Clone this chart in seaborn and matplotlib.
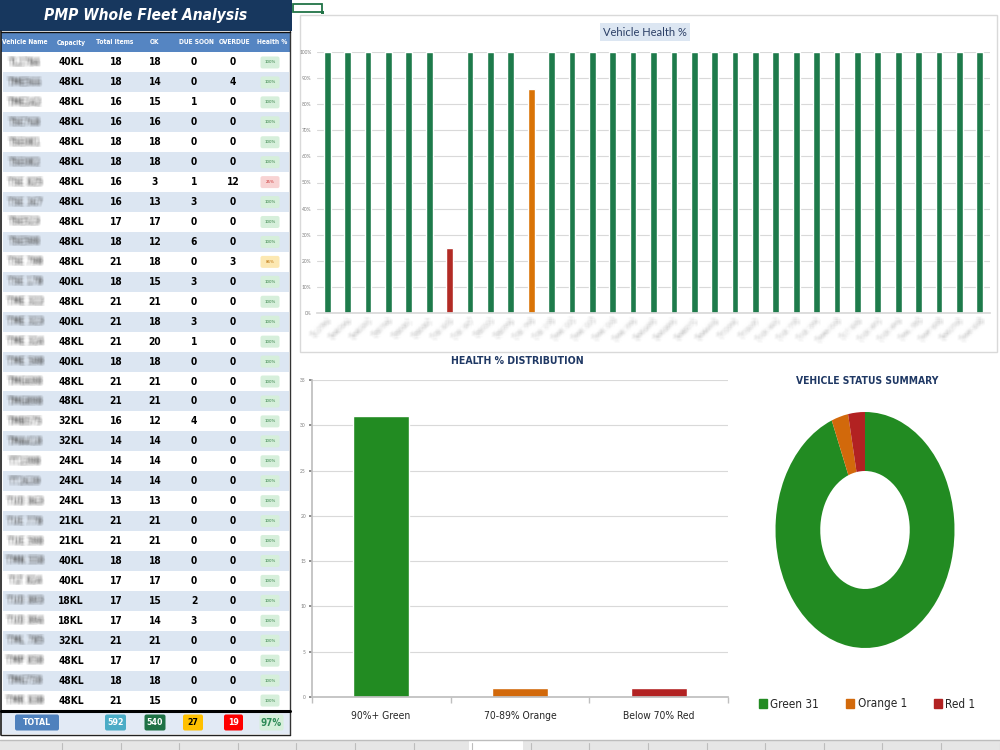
import numpy as np
import pandas as pd
import matplotlib
matplotlib.use('Agg')
import matplotlib.pyplot as plt
import seaborn as sns
from matplotlib.patches import Rectangle, FancyBboxPatch, Patch
from matplotlib.ticker import MultipleLocator, PercentFormatter

# fleet table (names are blurred in the source, so they are blurred here too)
vehicles = ['TL2784', 'TME566', 'TME242', 'TSE768', 'TSE081', 'TSE082', 'TSE 825',
            'TSE 367', 'TSE523', 'TSE598', 'TSE 798', 'TSE 178', 'TME 322', 'TME 323',
            'TME 324', 'TME 598', 'TMG698', 'TMG898', 'TMB575', 'TMA418', 'TT2398',
            'TT2639', 'TUD 863', 'TUE 778', 'TUE 598', 'TMN 558', 'TLT 824', 'TUD 893',
            'TUD 894', 'TML 785', 'TMP 858', 'TMG758', 'TMR 838']
capacity = ['40KL', '48KL', '48KL', '48KL', '48KL', '48KL', '48KL', '48KL', '48KL', '48KL',
            '48KL', '40KL', '48KL', '40KL', '48KL', '40KL', '48KL', '48KL', '32KL', '32KL',
            '24KL', '24KL', '24KL', '21KL', '21KL', '40KL', '40KL', '18KL', '18KL', '32KL',
            '48KL', '48KL', '48KL']
total_items = [18, 18, 16, 16, 18, 18, 16, 16, 17, 18, 21, 18, 21, 21, 21, 18, 21, 21, 16, 14,
               14, 14, 13, 21, 21, 18, 17, 17, 17, 21, 17, 18, 21]
ok_items = [18, 14, 15, 16, 18, 18, 3, 13, 17, 12, 18, 15, 21, 18, 20, 18, 21, 21, 12, 14,
            14, 14, 13, 21, 21, 18, 17, 15, 14, 21, 17, 18, 15]
due_soon = [0, 0, 1, 0, 0, 0, 1, 3, 0, 6, 0, 3, 0, 3, 1, 0, 0, 0, 4, 0,
            0, 0, 0, 0, 0, 0, 0, 2, 3, 0, 0, 0, 0]
overdue = [0, 4, 0, 0, 0, 0, 12, 0, 0, 0, 3, 0, 0, 0, 0, 0, 0, 0, 0, 0,
           0, 0, 0, 0, 0, 0, 0, 0, 0, 0, 0, 0, 0]
health = [100, 100, 100, 100, 100, 100, 25, 100, 100, 100, 86, 100, 100, 100, 100, 100, 100,
          100, 100, 100, 100, 100, 100, 100, 100, 100, 100, 100, 100, 100, 100, 100, 100]
fleet_health = '97%'

dist_labels = ['90%+ Green', '70-89% Orange', 'Below 70% Red']
dist_counts = [31, 1, 1]
status_labels = ['Green', 'Orange', 'Red']
status_counts = [31, 1, 1]

BAR_COLORS = {'Green': '#1E7B4B', 'Orange': '#D97306', 'Red': '#B22B25'}
DIST_COLORS = ['#228B22', '#D2690B', '#B22222']
NAVY = '#1F3864'
COND = dict(family='DejaVu Sans', stretch='condensed')


def band(h):
    if h >= 90:
        return 'Green'
    if h >= 70:
        return 'Orange'
    return 'Red'


def blur(img, dpi, r=2):
    # simple box blur for the anonymised vehicle names
    pad = 2 * r
    img = np.pad(img, ((pad, pad), (pad, pad), (0, 0)))
    for axis in (0, 1):
        acc = np.zeros_like(img)
        for s in range(-r, r + 1):
            acc += np.roll(img, s, axis=axis)
        img = acc / (2 * r + 1)
    return img, -pad, -pad


def px_axes(fig, x0, y0, x1, y1):
    return fig.add_axes([x0 / 1000, 1 - y1 / 750, (x1 - x0) / 1000, (y1 - y0) / 750])


def badge(ax, xc, yc, w, h, fc, text, tc, size, weight='bold', font=COND):
    ax.add_patch(FancyBboxPatch((xc - w / 2, yc - h / 2), w, h,
                                boxstyle='round,pad=0,rounding_size=2', fc=fc, ec='none'))
    ax.text(xc, yc, text, ha='center', va='center', color=tc, fontsize=size,
            weight=weight, **font)


sns.set_theme(style='white')
plt.rcParams['font.family'] = ['Lato', 'DejaVu Sans']

fig = plt.figure(figsize=(10, 7.5), dpi=100, facecolor='white')
bg = fig.add_axes([0, 0, 1, 1])
bg.set_xlim(0, 1000)
bg.set_ylim(750, 0)
bg.axis('off')

# ---------------- table panel ----------------
bg.add_patch(Rectangle((0, 0), 292, 31, color='#17375E', lw=0))
bg.text(146, 15.5, 'PMP Whole Fleet Analysis', ha='center', va='center', color='white',
        fontsize=11.2, weight='bold', style='italic', **COND)
bg.add_patch(Rectangle((1, 32), 289, 20, color='#5585C2', lw=0))
headers = ['Vehicle Name', 'Capacity', 'Total Items', 'OK', 'DUE SOON', 'OVERDUE', 'Health %']
head_x = [25, 71, 115, 155, 196, 235, 272]
for hx, ht in zip(head_x, headers):
    bg.text(hx, 42.5, ht, ha='center', va='center', color='white', fontsize=4.8,
            weight='bold', **COND)

col_x = [25, 71, 116, 155, 194, 233, 270]
y0, rh = 52.5, 19.94
badge_style = {'Green': ('#D6EFDB', '#2E7D40'), 'Orange': ('#FCE8B2', '#B86A00'),
               'Red': ('#F8D3D3', '#C62828')}
for i in range(len(vehicles)):
    top = y0 + i * rh
    yc = top + rh / 2
    bg.add_patch(Rectangle((3, top), 286, rh, color='white' if i % 2 == 0 else '#DCE6F2', lw=0))
    t = bg.text(col_x[0], yc, vehicles[i], ha='center', va='center', color='#505050',
                fontsize=6, weight='bold', **COND)
    t.set_agg_filter(blur)
    vals = [capacity[i], total_items[i], ok_items[i], due_soon[i], overdue[i]]
    for cx, v in zip(col_x[1:6], vals):
        bg.text(cx, yc, str(v), ha='center', va='center', color='black', fontsize=7.3,
                weight='bold', **COND)
    fc, tc = badge_style[band(health[i])]
    badge(bg, col_x[6], yc, 19, 12, fc, f'{health[i]}%', tc, 3.2, weight='normal')

# table borders and total row
bg.plot([1, 1], [31, 735], color='#1A1A1A', lw=1.2)
bg.plot([290, 290], [31, 735], color='#333333', lw=1.0)
bg.plot([1, 290], [31.5, 31.5], color='#111111', lw=1.0)
bg.plot([1, 290], [711, 711], color='black', lw=2.2)
bg.add_patch(Rectangle((2, 712), 288, 22, color='#E2EAF5', lw=0))
bg.plot([1, 290], [734.5, 734.5], color='#222222', lw=1.0)
tot_y = 722.5
badge(bg, 37, tot_y, 44, 16, '#4F81BD', 'TOTAL', 'white', 6.3)
badge(bg, 115.5, tot_y, 21, 16, '#4BACC6', str(sum(total_items)), 'white', 6.3)
badge(bg, 155, tot_y, 21, 16, '#1E7145', str(sum(ok_items)), 'white', 6.3)
badge(bg, 193, tot_y, 20, 16, '#FFC000', str(sum(due_soon)), 'black', 6.3)
badge(bg, 233.5, tot_y, 19, 16, '#FF0000', str(sum(overdue)), 'white', 6.3)
badge(bg, 271.5, tot_y, 24, 16, '#D6EFDB', fleet_health, '#2E8B57', 7)

# excel cell cursor and sheet tab strip
bg.add_patch(Rectangle((293, 4), 29, 8, fill=False, ec='#217346', lw=1.3))
bg.add_patch(Rectangle((320.5, 10.5), 3, 3, color='#217346', lw=0))
bg.add_patch(Rectangle((0, 740), 1000, 10, color='#E6E6E6', lw=0))
bg.plot([0, 1000], [740, 740], color='#BDBDBD', lw=1)
bg.add_patch(Rectangle((469, 741), 54, 9, color='white', lw=0))
for dx in np.arange(62, 1000, 58.6):
    bg.plot([dx, dx], [743, 750], color='#BDBDBD', lw=0.8)

# ---------------- vehicle health bar chart ----------------
bg.add_patch(Rectangle((300, 15), 697, 337, fill=False, ec='#D9D9D9', lw=1))
bg.text(645, 32, 'Vehicle Health %', ha='center', va='center', color='#2B3F66', fontsize=8,
        bbox=dict(boxstyle='square,pad=0.3', fc='#DCE6F2', ec='none'))

df = pd.DataFrame({'vehicle': vehicles, 'health': health,
                   'band': [band(h) for h in health]})
ax1 = px_axes(fig, 317, 52, 990, 313)
sns.barplot(data=df, x='vehicle', y='health', hue='band', order=vehicles,
            hue_order=status_labels, palette=BAR_COLORS, dodge=False, width=0.33,
            saturation=1, errorbar=None, legend=False, ax=ax1)
ax1.set_xlim(-0.5, len(vehicles) - 0.5)
ax1.set_ylim(0, 100)
ax1.yaxis.set_major_locator(MultipleLocator(10))
ax1.yaxis.set_major_formatter(PercentFormatter(xmax=100, decimals=0))
ax1.yaxis.grid(True, color='#D9D9D9', lw=0.8)
ax1.set_axisbelow(True)
ax1.set_facecolor('none')
for s in ['top', 'right', 'left']:
    ax1.spines[s].set_visible(False)
ax1.spines['bottom'].set_color('#D9D9D9')
ax1.set_xlabel('')
ax1.set_ylabel('')
ax1.tick_params(axis='y', labelsize=3.5, colors='#7F7F7F', length=0, pad=4)
ax1.tick_params(axis='x', labelsize=5, colors='#9A9A9A', length=0, pad=3)
for lab in ax1.get_xticklabels():
    lab.set_rotation(45)
    lab.set_ha('right')
    lab.set_rotation_mode('anchor')
    lab.set_agg_filter(blur)

# ---------------- health distribution ----------------
bg.text(517, 361, 'HEALTH % DISTRIBUTION', ha='center', va='center', color=NAVY,
        fontsize=7.6, weight='bold', **COND)
ax2 = px_axes(fig, 311.5, 380, 728.5, 697)
sns.barplot(x=dist_labels, y=dist_counts, hue=dist_labels, palette=DIST_COLORS, width=0.4,
            saturation=1, errorbar=None, legend=False, ax=ax2)
ax2.set_xlim(-0.5, 2.5)
ax2.set_ylim(0, 35)
ax2.yaxis.set_major_locator(MultipleLocator(5))
ax2.yaxis.grid(True, color='#D9D9D9', lw=0.8)
ax2.set_axisbelow(True)
ax2.set_facecolor('none')
for s in ['top', 'right']:
    ax2.spines[s].set_visible(False)
for s in ['left', 'bottom']:
    ax2.spines[s].set_color('#BFBFBF')
ax2.set_xticks([-0.5, 0.5, 1.5, 2.5], minor=True)
ax2.tick_params(axis='x', which='minor', length=4, color='#BFBFBF', bottom=True)
ax2.tick_params(axis='x', which='major', labelsize=7.4, labelcolor='#262626', length=0, pad=10)
ax2.tick_params(axis='y', labelsize=3.5, colors='#7F7F7F', length=2, left=True, pad=2)
for lab in ax2.get_xticklabels():
    lab.set_family(COND['family'])
    lab.set_stretch('condensed')

# ---------------- vehicle status donut ----------------
bg.text(867, 381, 'VEHICLE STATUS SUMMARY', ha='center', va='center', color=NAVY,
        fontsize=7.4, weight='bold', **COND)
ax3 = px_axes(fig, 775.5, 412, 954.5, 648)
ax3.pie(status_counts, colors=DIST_COLORS, startangle=90, counterclock=False,
        wedgeprops=dict(width=0.5, edgecolor='none'))
ax3.set_aspect('auto')
ax3.set_xlim(-1, 1)
ax3.set_ylim(-1, 1)
handles = [Patch(color=c, label=f'{l} {n}')
           for c, l, n in zip(DIST_COLORS, status_labels, status_counts)]
leg = fig.legend(handles=handles, loc='center', bbox_to_anchor=(867 / 1000, 1 - 704 / 750),
                 ncol=3, frameon=False, fontsize=8.4, handlelength=0.7, handleheight=0.7,
                 handletextpad=0.3, columnspacing=2.3)
for t in leg.get_texts():
    t.set_family(COND['family'])
    t.set_stretch('condensed')
    t.set_color('#262626')

fig.savefig('out.png', dpi=100, facecolor='white')
